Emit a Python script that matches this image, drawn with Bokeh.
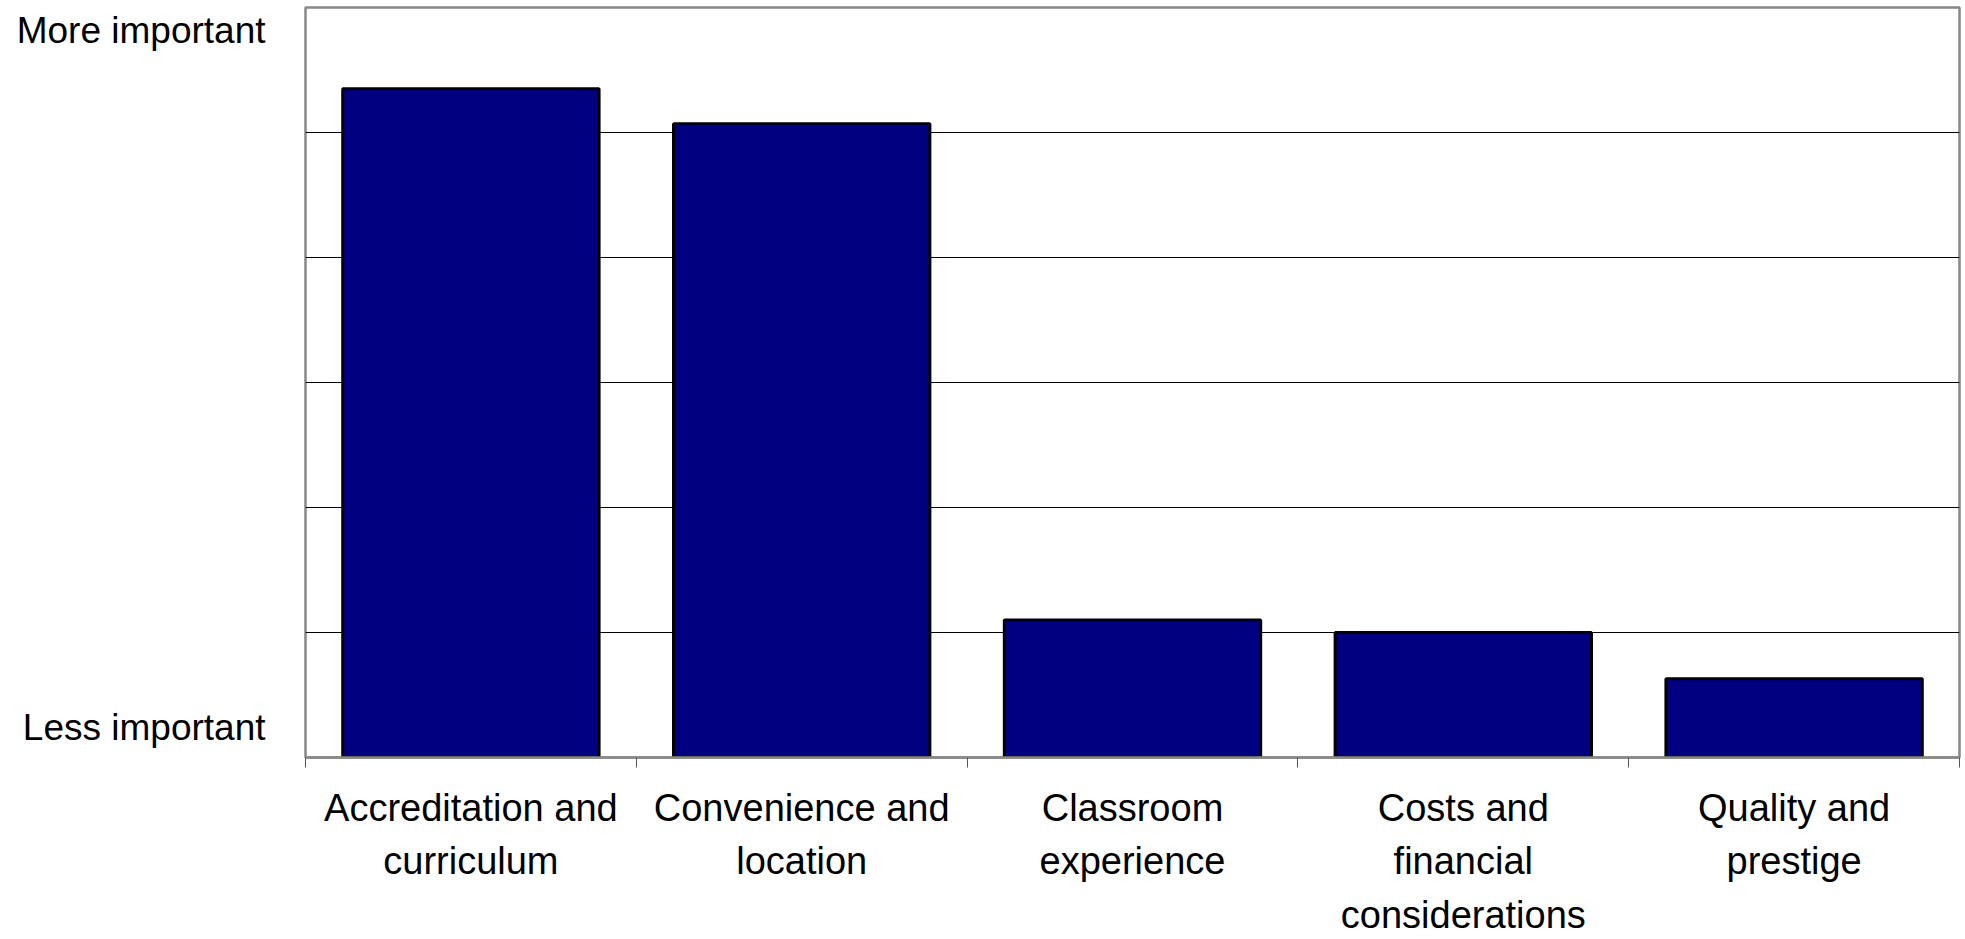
from bokeh.plotting import figure
from bokeh.models import FixedTicker, Range1d
from bokeh.embed import file_html
from bokeh.resources import INLINE

# Importance of school-selection factors (0 = less important, 6 = more important)
categories = [
    "Accreditation and\ncurriculum",
    "Convenience and\nlocation",
    "Classroom\nexperience",
    "Costs and\nfinancial\nconsiderations",
    "Quality and\nprestige",
]
importance = [5.35, 5.07, 1.10, 1.00, 0.63]

scale_labels = {0.24: "Less important", 5.82: "More important"}

n = len(categories)
centers = [i + 0.5 for i in range(n)]

p = figure(
    width=1965, height=939,
    x_range=Range1d(0, n), y_range=Range1d(0, 6),
    output_backend="svg", toolbar_location=None,
    min_border_left=305, min_border_right=6, min_border_top=7, min_border_bottom=182,
)
p.background_fill_color = "white"
p.border_fill_color = "white"
p.outline_line_color = "#888888"
p.outline_line_width = 2.5

# horizontal gridlines at each whole unit
p.xgrid.visible = False
p.ygrid.ticker = FixedTicker(ticks=[1, 2, 3, 4, 5])
p.ygrid.grid_line_color = "black"
p.ygrid.grid_line_width = 1

p.vbar(x=centers, top=importance, bottom=0, width=0.775,
       fill_color="#000080", line_color="black", line_width=3)

# x axis: names at category centres, tick marks at category boundaries
xa = p.xaxis[0]
xa.ticker = FixedTicker(ticks=centers, minor_ticks=list(range(n + 1)))
xa.major_label_overrides = {c: lab for c, lab in zip(centers, categories)}
xa.major_tick_line_color = None
xa.major_tick_out = 0
xa.major_tick_in = 0
xa.minor_tick_line_color = "#555555"
xa.minor_tick_out = 10
xa.minor_tick_in = 0
xa.axis_line_color = "#888888"
xa.axis_line_width = 2.5
xa.major_label_text_font = "Liberation Sans"
xa.major_label_text_font_size = "38px"
xa.major_label_text_color = "black"
xa.major_label_text_line_height = 1.28
xa.major_label_standoff = 19

# y axis: only the two end descriptions
ya = p.yaxis[0]
ya.ticker = FixedTicker(ticks=list(scale_labels.keys()))
ya.major_label_overrides = scale_labels
ya.major_tick_line_color = None
ya.major_tick_out = 0
ya.major_tick_in = 0
ya.minor_tick_line_color = None
ya.axis_line_color = None
ya.major_label_text_font = "Liberation Sans"
ya.major_label_text_font_size = "37px"
ya.major_label_text_color = "black"
ya.major_label_standoff = 40

open("out.html", "w").write(file_html(p, INLINE))
